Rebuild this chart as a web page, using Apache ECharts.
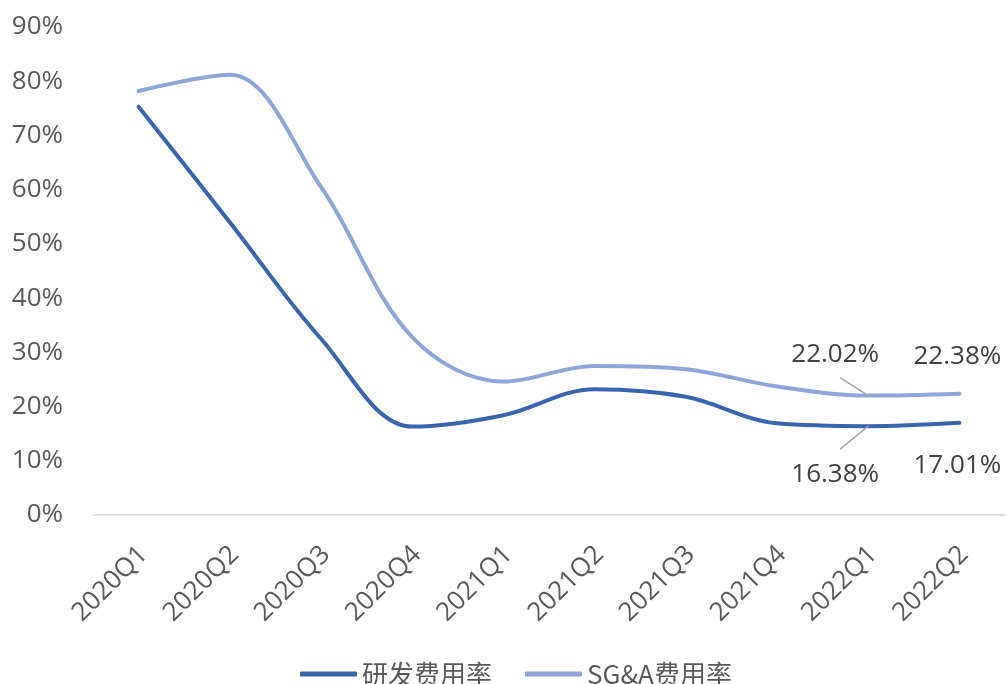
<!DOCTYPE html>
<html>
<head>
<meta charset="utf-8">
<style>
  html, body { margin: 0; padding: 0; background: #fff; }
  #chart { width: 1006px; height: 684px; }
</style>
<script src="https://cdn.jsdelivr.net/npm/echarts@6/dist/echarts.min.js"></script>
</head>
<body>
<div id="chart"></div>
<script>
// 季度
var categories = ['2020Q1', '2020Q2', '2020Q3', '2020Q4', '2021Q1', '2021Q2', '2021Q3', '2021Q4', '2022Q1', '2022Q2'];
// 研发费用率 (%)
var rdRate = [75.3, 54.0, 32.5, 16.3, 18.4, 23.2, 21.8, 16.9, 16.38, 17.01];
// SG&A费用率 (%)
var sgaRate = [78.2, 81.2, 60.5, 32.8, 24.6, 27.5, 26.9, 23.7, 22.02, 22.38];
// y轴刻度
var yTicks = [0, 10, 20, 30, 40, 50, 60, 70, 80, 90];
// 需要标注的点
var labeledIdx = [8, 9];

var fontFamily = '"Open Sans", "Noto Sans CJK SC", sans-serif';
var textColor = '#404040';
var axisColor = '#595959';

// 带引导线的标签: 透明底框+padding, 让引导线从标签中下方斜着连到点
function buildData(values, guidePadding) {
	return values.map(function (v, i) {
		if (labeledIdx.indexOf(i) >= 0) {
			var withGuide = i === labeledIdx[0];
			return {
				value: v,
				label: withGuide
					? { show: true, padding: guidePadding, backgroundColor: 'rgba(255,255,255,0)' }
					: { show: true },
				labelLine: { show: withGuide }
			};
		}
		return v;
	});
}

// 标签偏移 (series -> dataIndex -> [dx, dy])
var labelShift = {
	0: { 8: [-28, 17], 9: [-2, 24] },
	1: { 8: [-28, -12], 9: [-2, -18] }
};

var myChart = echarts.init(document.getElementById('chart'));
myChart.setOption({
	animation: false,
	grid: {
		left: 93,
		right: 1,
		top: 27,
		bottom: 169
	},
	legend: {
		left: 295,
		top: 656,
		itemWidth: 57,
		itemHeight: 5,
		itemGap: 33,
		textStyle: { color: axisColor, fontSize: 26, fontFamily: '"Noto Sans CJK SC", sans-serif' },
		data: [
			{ name: '研发费用率', icon: 'roundRect' },
			{ name: 'SG&A费用率', icon: 'roundRect' }
		]
	},
	xAxis: {
		type: 'category',
		data: categories,
		boundaryGap: true,
		axisLine: { lineStyle: { color: '#d9d9d9', width: 1.5 } },
		axisTick: { show: false },
		axisLabel: {
			rotate: 45,
			interval: 0,
			margin: 22,
			verticalAlign: 'top',
			padding: [0, 6, 0, 0],
			color: axisColor,
			fontSize: 26,
			fontFamily: fontFamily
		}
	},
	yAxis: {
		type: 'value',
		min: yTicks[0],
		max: yTicks[yTicks.length - 1],
		interval: 10,
		splitLine: { show: false },
		axisLine: { show: false },
		axisTick: { show: false },
		axisLabel: {
			margin: 30,
			color: axisColor,
			fontSize: 26,
			fontFamily: fontFamily,
			formatter: '{value}%'
		}
	},
	series: [
		{
			name: '研发费用率',
			type: 'line',
			smooth: 0.35,
			symbol: 'circle',
			symbolSize: 0.01,
			showSymbol: true,
			itemStyle: { color: '#3B64AD' },
			lineStyle: { color: '#3B64AD', width: 4, cap: 'round' },
			label: {
				show: false,
				position: 'bottom',
				distance: 6,
				color: textColor,
				fontSize: 26,
				fontFamily: fontFamily,
				formatter: function (p) { return p.value.toFixed(2) + '%'; }
			},
			labelLine: { length2: 0, lineStyle: { color: '#a6a6a6', width: 1.5 } },
			data: buildData(rdRate, [12, 10, 0, 0])
		},
		{
			name: 'SG&A费用率',
			type: 'line',
			smooth: 0.35,
			symbol: 'circle',
			symbolSize: 0.01,
			showSymbol: true,
			itemStyle: { color: '#8FA5D6' },
			lineStyle: { color: '#8FA5D6', width: 4, cap: 'round' },
			label: {
				show: false,
				position: 'top',
				distance: 6,
				color: textColor,
				fontSize: 26,
				fontFamily: fontFamily,
				formatter: function (p) { return p.value.toFixed(2) + '%'; }
			},
			labelLine: { length2: 0, lineStyle: { color: '#a6a6a6', width: 1.5 } },
			data: buildData(sgaRate, [0, 10, 10, 0])
		}
	],
	labelLayout: function (params) {
		var s = labelShift[params.seriesIndex];
		var d = s && s[params.dataIndex];
		if (!d) return {};
		return { dx: d[0], dy: d[1] };
	}
});
</script>
</body>
</html>
